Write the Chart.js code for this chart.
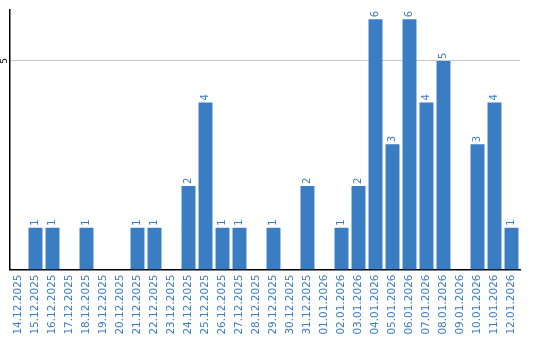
<!DOCTYPE html>
<html><head><meta charset="utf-8">
<script src="https://cdn.jsdelivr.net/npm/chart.js@4"></script>
<style>html,body{margin:0;padding:0;background:#fff}#wrap{width:540px;height:340px}</style>
</head><body><div id="wrap"><canvas id="c" width="540" height="340"></canvas></div>
<script>
const categories = ["14.12.2025","15.12.2025","16.12.2025","17.12.2025","18.12.2025","19.12.2025","20.12.2025","21.12.2025","22.12.2025","23.12.2025","24.12.2025","25.12.2025","26.12.2025","27.12.2025","28.12.2025","29.12.2025","30.12.2025","31.12.2025","01.01.2026","02.01.2026","03.01.2026","04.01.2026","05.01.2026","06.01.2026","07.01.2026","08.01.2026","09.01.2026","10.01.2026","11.01.2026","12.01.2026"];
const counts = [0,1,1,0,1,0,0,1,1,0,2,4,1,1,0,1,0,2,0,1,2,6,3,6,4,5,0,3,4,1];
const yTicks = [5];

const BLUE = '#3a7dc2';
const FONT = '"DejaVu Sans", Verdana, sans-serif';

const labelPlugin = {
  id: 'labels',
  afterDatasetsDraw(chart) {
    const ctx = chart.ctx;
    const meta = chart.getDatasetMeta(0);
    ctx.save();
    ctx.fillStyle = BLUE;
    ctx.font = '10px ' + FONT;
    ctx.textAlign = 'left';
    ctx.textBaseline = 'middle';
    meta.data.forEach((bar, i) => {
      const v = counts[i];
      if (!v) return;
      ctx.save();
      ctx.translate(bar.x, bar.y - 2);
      ctx.rotate(-Math.PI / 2);
      ctx.fillText(String(v), 0, 0);
      ctx.restore();
    });
    const ys = chart.scales.y;
    ctx.fillStyle = '#000';
    ctx.font = '9px ' + FONT;
    ctx.textAlign = 'center';
    ctx.textBaseline = 'middle';
    yTicks.forEach(t => {
      ctx.save();
      ctx.translate(ys.right - 5, ys.getPixelForValue(t));
      ctx.rotate(-Math.PI / 2);
      ctx.fillText(String(t), 0, 0);
      ctx.restore();
    });
    ctx.restore();
  }
};

new Chart(document.getElementById('c'), {
  type: 'bar',
  data: {
    labels: categories,
    datasets: [{ data: counts, backgroundColor: BLUE, borderWidth: 0,
      barPercentage: 0.82, categoryPercentage: 1.0 }]
  },
  options: {
    responsive: false,
    animation: false,
    plugins: { legend: { display: false }, tooltip: { enabled: false } },
    layout: { padding: { left: 0, right: 20, top: 10, bottom: 0 } },
    scales: {
      x: {
        afterFit(s) { s.height = 70.5; },
        grid: { display: false, drawTicks: false },
        border: { display: true, color: '#000', width: 1.5 },
        ticks: { color: BLUE, font: { family: FONT, size: 10.5 }, minRotation: 90, maxRotation: 90, autoSkip: false, padding: 5 }
      },
      y: {
        min: 0, max: 6.22,
        afterFit(s) { s.width = 10; },
        afterBuildTicks(s) { s.ticks = yTicks.map(v => ({ value: v })); },
        grid: { color: '#c8c8c8', lineWidth: 1, drawTicks: false },
        border: { display: true, color: '#000', width: 1.5 },
        ticks: { display: false }
      }
    }
  },
  plugins: [labelPlugin]
});
</script></body></html>
